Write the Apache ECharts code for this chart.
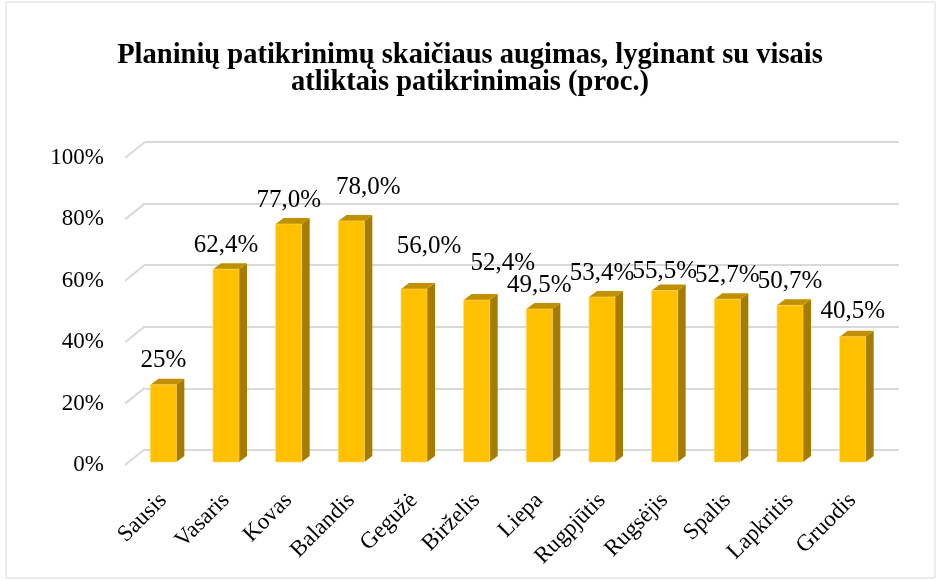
<!DOCTYPE html>
<html>
<head>
<meta charset="utf-8">
<script src="https://cdn.jsdelivr.net/npm/echarts@6/dist/echarts.min.js"></script>
<style>
  html, body { margin: 0; padding: 0; background: #fff; }
  #chart { width: 940px; height: 581px; }
</style>
</head>
<body>
<div id="chart"></div>
<script>
var months = ['Sausis', 'Vasaris', 'Kovas', 'Balandis', 'Gegužė', 'Birželis', 'Liepa', 'Rugpjūtis', 'Rugsėjis', 'Spalis', 'Lapkritis', 'Gruodis'];
var values = [25, 62.4, 77.0, 78.0, 56.0, 52.4, 49.5, 53.4, 55.5, 52.7, 50.7, 40.5];
var valueLabels = ['25%', '62,4%', '77,0%', '78,0%', '56,0%', '52,4%', '49,5%', '53,4%', '55,5%', '52,7%', '50,7%', '40,5%'];
var yTicks = [0, 20, 40, 60, 80, 100];

// label nudges as placed in the original (dx, dy)
var labelNudge = [[0, 0], [0, 0], [0, 0], [17, -10], [15, -19], [26, -13], [0, 0], [0, 0], [0, 5], [0, 0], [0, 0], [0, -1]];

var serif = '"Liberation Serif", "Times New Roman", serif';
var gridColor = '#d9d9d9';
var depthX = 8, depthY = 6;
var floorX = 20, floorY = 16;

var chart = echarts.init(document.getElementById('chart'));

var barData = values.map(function (v, i) { return [i, v]; });

var option = {
  backgroundColor: '#fff',
  animation: false,
  title: {
    text: 'Planinių patikrinimų skaičiaus augimas, lyginant su visais\natliktais patikrinimais (proc.)',
    left: 'center',
    top: 37,
    textStyle: { fontFamily: serif, fontWeight: 'bold', fontSize: 28.5, lineHeight: 27, color: '#000', align: 'center' }
  },
  graphic: [{
    type: 'rect',
    shape: { x: 6, y: 2, width: 929, height: 576 },
    style: { fill: null, stroke: gridColor, lineWidth: 1 },
    silent: true
  }],
  grid: [
    // bars
    { left: 132, top: 153, width: 752, height: 309 },
    // front plane (axis labels)
    { left: 125, top: 158, width: 754, height: 307 },
    // back wall
    { left: 145, top: 142, width: 754, height: 308 }
  ],
  xAxis: [
    {
      gridIndex: 0, type: 'category', data: months,
      axisLine: { show: false }, axisTick: { show: false },
      axisLabel: { rotate: 45, margin: 35, interval: 0, fontFamily: serif, fontSize: 23, color: '#000' }
    },
    { gridIndex: 1, type: 'value', min: 0, max: 1, show: false },
    { gridIndex: 2, type: 'value', min: 0, max: 1, show: false }
  ],
  yAxis: [
    { gridIndex: 0, type: 'value', min: 0, max: 100, show: false },
    {
      gridIndex: 1, type: 'value', min: 0, max: 100, interval: 20,
      axisLine: { show: false }, axisTick: { show: false }, splitLine: { show: false },
      axisLabel: { formatter: '{value}%', margin: 21, fontFamily: serif, fontSize: 23, color: '#000' }
    },
    {
      gridIndex: 2, type: 'value', min: 0, max: 100, interval: 20,
      axisLine: { show: false }, axisTick: { show: false }, axisLabel: { show: false },
      splitLine: { show: true, lineStyle: { color: gridColor, width: 2 } }
    }
  ],
  series: [
    {
      // diagonal lines joining the axis labels to the back wall
      type: 'custom',
      xAxisIndex: 1, yAxisIndex: 1,
      silent: true,
      data: yTicks.map(function (t) { return [0, t]; }),
      renderItem: function (params, api) {
        var p = api.coord([0, api.value(1)]);
        return {
          type: 'line',
          shape: { x1: p[0], y1: p[1], x2: p[0] + floorX, y2: p[1] - floorY },
          style: { stroke: gridColor, lineWidth: 2 }
        };
      },
      z: 1
    },
    {
      type: 'custom',
      xAxisIndex: 0, yAxisIndex: 0,
      data: barData,
      renderItem: function (params, api) {
        var idx = api.value(0);
        var base = api.coord([idx, 0]);
        var top = api.coord([idx, api.value(1)]);
        var w = api.size([1, 0])[0] * 0.415;
        var l = base[0] - w / 2, r = base[0] + w / 2;
        var b = base[1], t = top[1];
        var nudge = labelNudge[params.dataIndex];
        return {
          type: 'group',
          children: [
            {
              type: 'polygon',
              shape: { points: [[r, t], [r + depthX, t - depthY], [r + depthX, b - depthY], [r, b]] },
              style: { fill: '#a67c00' }
            },
            {
              type: 'polygon',
              shape: { points: [[l, t], [l + depthX, t - depthY], [r + depthX, t - depthY], [r, t]] },
              style: { fill: '#c09000' }
            },
            {
              type: 'rect',
              shape: { x: l, y: t, width: w, height: b - t },
              style: { fill: '#ffc000', stroke: '#ffd966', lineWidth: 0.6 }
            },
            {
              type: 'text',
              x: base[0] + nudge[0],
              y: t - 24 + nudge[1],
              style: {
                text: valueLabels[params.dataIndex],
                fontFamily: serif, fontSize: 25, fill: '#000',
                align: 'center', verticalAlign: 'middle'
              }
            }
          ]
        };
      },
      z: 2
    }
  ]
};

chart.setOption(option);
</script>
</body>
</html>
